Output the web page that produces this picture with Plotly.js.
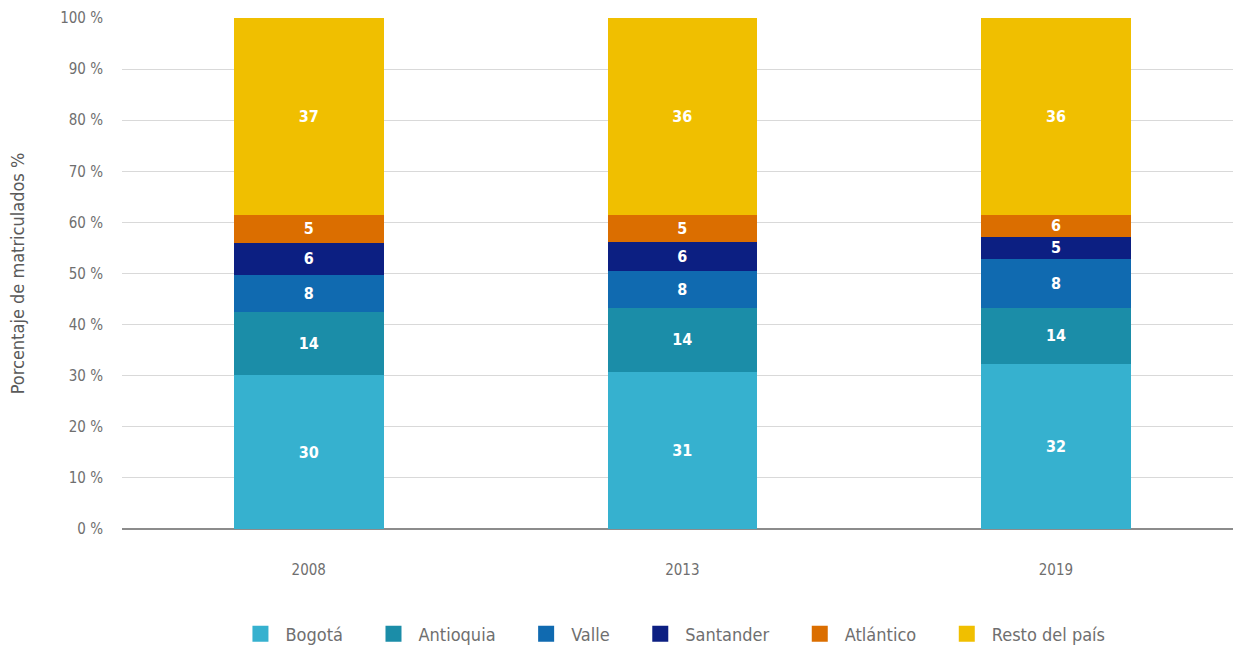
<!DOCTYPE html>
<html>
<head>
<meta charset="utf-8">
<script src="https://cdn.plot.ly/plotly-3.0.1.min.js"></script>
<style>html,body{margin:0;padding:0;background:#fff;}#chart{width:1235px;height:649px;}</style>
</head>
<body>
<div id="chart"></div>
<script>
const years = ['2008', '2013', '2019'];
const seriesNames = ['Bogotá', 'Antioquia', 'Valle', 'Santander', 'Atlántico', 'Resto del país'];
// segment sizes (percent) as drawn
const bogota    = [30.1, 30.7, 32.3];
const antioquia = [12.4, 12.6, 11.0];
const valle     = [7.2, 7.2, 9.6];
const santander = [6.3, 5.7, 4.3];
const atlantico = [5.5, 5.3, 4.3];
const resto     = [38.5, 38.5, 38.5];
// printed labels
const bogotaLbl    = ['30', '31', '32'];
const antioquiaLbl = ['14', '14', '14'];
const valleLbl     = ['8', '8', '8'];
const santanderLbl = ['6', '6', '5'];
const atlanticoLbl = ['5', '5', '6'];
const restoLbl     = ['37', '36', '36'];
const yTickVals   = [0, 10, 20, 30, 40, 50, 60, 70, 80, 90, 100];
const yTickLabels = ['0 %', '10 %', '20 %', '30 %', '40 %', '50 %', '60 %', '70 %', '80 %', '90 %', '100 %'];
const colors = ['#36B1CF', '#1B8DA8', '#106AB0', '#0C1F82', '#DB6E00', '#F0BF00'];

const values = [bogota, antioquia, valle, santander, atlantico, resto];
const labels = [bogotaLbl, antioquiaLbl, valleLbl, santanderLbl, atlanticoLbl, restoLbl];
const FONT = '"DejaVu Sans Condensed", "Liberation Sans Narrow", "Roboto", sans-serif';

const bars = seriesNames.map((n, i) => ({
  type: 'bar',
  name: n,
  x: years,
  y: values[i],
  text: labels[i],
  texttemplate: '%{text}',
  textposition: 'inside',
  insidetextanchor: 'middle',
  textangle: 0,
  textfont: {color: '#ffffff', size: 16, family: FONT, weight: 'bold'},
  marker: {color: colors[i], line: {width: 0}},
  width: 0.40,
  showlegend: false,
  hoverinfo: 'skip'
}));

// legend entries (square swatches)
const legendItems = seriesNames.map((n, i) => ({
  type: 'scatter',
  mode: 'markers',
  name: n + '\u00a0\u00a0\u00a0\u00a0',
  x: [null],
  y: [null],
  marker: {symbol: 'square', size: 16, color: colors[i], line: {width: 0}},
  showlegend: true,
  hoverinfo: 'skip'
}));

const layout = {
  width: 1235, height: 649,
  margin: {l: 122, r: 2, t: 18, b: 120},
  barmode: 'stack',
  paper_bgcolor: '#ffffff',
  plot_bgcolor: '#ffffff',
  font: {family: FONT, color: '#6f6f6f', size: 15},
  uniformtext: {mode: 'show', minsize: 16},
  xaxis: {
    type: 'category',
    range: [-0.5, 2.474],
    showgrid: false,
    showline: false,
    zeroline: false,
    ticks: '',
    tickfont: {size: 15, color: '#6f6f6f', family: FONT},
    ticklabelstandoff: 30
  },
  yaxis: {
    range: [0, 100],
    tickvals: yTickVals,
    ticktext: yTickLabels,
    showgrid: true,
    gridcolor: '#d9d9d9',
    gridwidth: 1,
    zeroline: true,
    zerolinecolor: '#8c8c8c',
    zerolinewidth: 2,
    showline: false,
    ticks: '',
    ticklabelstandoff: 18,
    tickfont: {size: 15, color: '#6f6f6f', family: FONT},
    title: {text: 'Porcentaje de matriculados %', font: {size: 18, color: '#5a5a5a', family: FONT}, standoff: 30}
  },
  showlegend: true,
  legend: {
    orientation: 'h',
    x: 0.5534, xanchor: 'center', xref: 'container',
    y: 0.023, yanchor: 'middle', yref: 'container',
    font: {size: 18, color: '#6f6f6f', family: FONT},
    itemwidth: 40,
    itemsizing: 'trace',
    traceorder: 'normal'
  }
};

Plotly.newPlot('chart', bars.concat(legendItems), layout, {displayModeBar: false, staticPlot: true});
</script>
</body>
</html>
